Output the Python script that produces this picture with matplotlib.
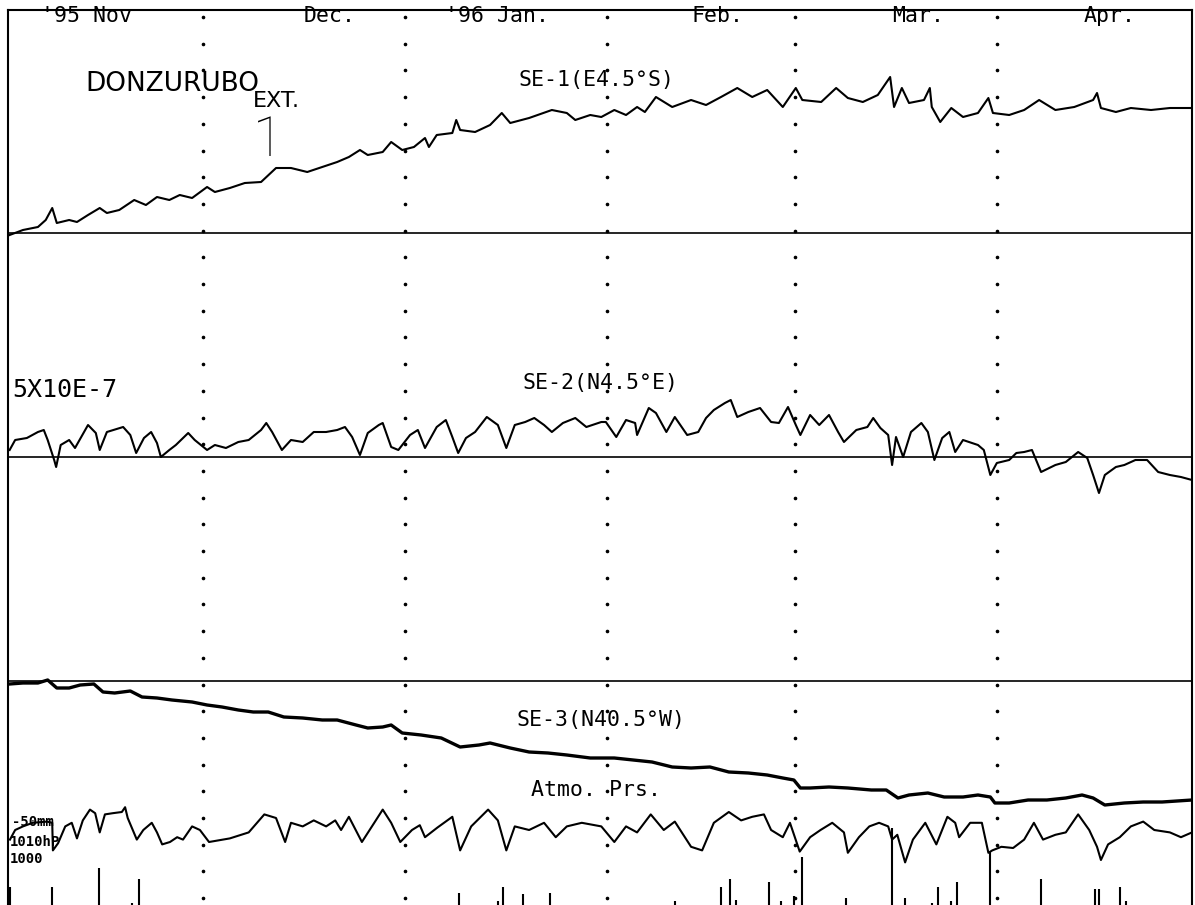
import numpy as np
import matplotlib
matplotlib.use("Agg")
import matplotlib.pyplot as plt

# --- datos leidos del registro (dias desde 1 Nov 1995) ---
# deformacion en unidades de 1e-7 respecto a la linea base de cada canal
se1_day = [0.25, 2.3, 4.6, 5.8, 6.8, 7.5, 9.4, 10.6, 12.3, 14.1, 15.2, 17.1, 19.4, 21.2, 22.9, 24.8,
           26.4, 28.3, 30.6, 31.8, 34.1, 36.4, 38.9, 41.2, 43.5, 46.0, 48.3, 50.6, 52.4, 54.1, 55.3,
           57.6, 58.9, 60.6, 62.4, 64.1, 64.7, 65.9, 68.3, 68.9, 69.5, 71.8, 74.1, 75.9, 77.2, 80.1,
           83.6, 85.9, 87.2, 89.5, 91.2, 93.2, 95.0, 96.7, 97.9, 99.6, 102.1, 105.0, 107.3, 109.6,
           112.1, 114.4, 116.7, 119.1, 121.1, 122.1, 125.0, 127.3, 129.1, 131.4, 133.7, 135.6, 136.2,
           137.4, 138.5, 140.8, 141.7, 142.0, 143.3, 145.0, 146.8, 149.1, 150.7, 151.4, 153.9, 156.2,
           158.5, 161.0, 163.9, 166.8, 167.4, 168.0, 170.3, 172.6, 175.7, 178.6, 182.0]
se1_val = [-0.2, 0.3, 0.6, 1.3, 2.5, 1.0, 1.3, 1.1, 1.8, 2.5, 2.0, 2.3, 3.3, 2.8, 3.6, 3.3,
           3.8, 3.5, 4.6, 4.1, 4.5, 5.0, 5.1, 6.5, 6.5, 6.1, 6.6, 7.1, 7.6, 8.3, 7.8,
           8.1, 9.1, 8.3, 8.6, 9.5, 8.6, 9.8, 10.0, 11.3, 10.3, 10.1, 10.8, 12.0, 11.0, 11.5,
           12.3, 12.0, 11.3, 11.8, 11.6, 12.3, 11.8, 12.6, 12.1, 13.6, 12.6, 13.3, 12.8, 13.6,
           14.5, 13.6, 14.3, 12.6, 14.5, 13.3, 13.1, 14.5, 13.5, 13.1, 13.8, 15.6, 12.6,
           14.5, 13.0, 13.3, 14.5, 12.6, 11.1, 12.5, 11.6, 12.0, 13.5, 12.0, 11.8, 12.3,
           13.3, 12.3, 12.6, 13.3, 14.0, 12.5, 12.1, 12.5, 12.3, 12.5, 12.5]

se2_day = [0.25, 1.1, 2.9, 4.6, 5.5, 6.1, 7.1, 7.4, 8.1, 9.4,
           10.3, 12.3, 13.5, 14.1, 15.2, 17.7, 18.8, 19.7, 20.9, 22.0,
           22.9, 23.5, 24.8, 25.8, 27.7, 28.7, 30.6, 31.8, 33.5, 35.4,
           37.0, 38.9, 39.7, 40.6, 42.1, 43.5, 45.3, 47.0, 48.9, 50.6,
           51.8, 52.9, 54.1, 55.3, 57.0, 57.6, 58.9, 60.0, 61.8, 63.0,
           64.1, 65.9, 67.3, 68.3, 69.2, 70.4, 71.8, 73.6, 75.3, 76.6,
           77.9, 79.5, 80.9, 82.4, 83.6, 85.3, 87.2, 88.9, 91.2, 91.9,
           93.5, 95.0, 96.4, 96.7, 98.5, 99.6, 101.2, 102.5, 104.4, 106.1,
           107.3, 108.5, 110.2, 111.1, 112.1, 113.8, 115.6, 117.3, 118.5, 119.9,
           121.1, 121.8, 123.3, 124.7, 126.2, 127.6, 128.5, 130.4, 132.1, 133.0,
           134.1, 135.3, 135.9, 136.5, 137.6, 138.8, 140.4, 141.4, 142.4, 143.6,
           144.7, 145.6, 146.8, 149.1, 150.0, 151.0, 152.0, 153.9, 155.0, 156.2,
           157.4, 158.8, 161.0, 162.6, 164.5, 165.9, 166.8, 167.7, 168.6, 170.3,
           171.6, 173.3, 175.1, 176.8, 178.6, 180.3, 182.0]
se2_val = [0.7, 1.7, 1.9, 2.5, 2.7, 1.7, -0.3, -1.0, 1.2, 1.7,
           0.9, 3.2, 2.4, 0.7, 2.5, 3.0, 2.2, 0.4, 1.9, 2.5,
           1.4, 0.0, 0.7, 1.2, 2.4, 1.7, 0.7, 1.2, 0.9, 1.5,
           1.7, 2.7, 3.4, 2.5, 0.7, 1.7, 1.5, 2.5, 2.5, 2.7,
           3.0, 2.0, 0.2, 2.4, 3.2, 3.4, 1.0, 0.7, 2.2, 2.7,
           0.9, 3.0, 3.7, 2.0, 0.4, 1.9, 2.5, 4.0, 3.2, 0.9,
           3.2, 3.5, 3.9, 3.2, 2.5, 3.4, 3.9, 3.0, 3.5, 3.5,
           2.0, 3.7, 3.4, 2.2, 4.9, 4.4, 2.5, 4.0, 2.2, 2.5,
           3.9, 4.7, 5.4, 5.7, 4.0, 4.5, 4.9, 3.5, 3.4, 5.0,
           3.2, 2.2, 4.2, 3.2, 4.2, 2.5, 1.5, 2.7, 3.0, 3.9,
           2.9, 2.2, -0.8, 2.0, 0.0, 2.5, 3.4, 2.5, -0.3, 1.9,
           2.5, 0.5, 1.7, 1.2, 0.7, -1.8, -0.6, -0.3, 0.4, 0.5,
           0.7, -1.5, -0.8, -0.5, 0.5, -0.1, -1.8, -3.6, -1.8, -1.0,
           -0.8, -0.3, -0.3, -1.5, -1.8, -2.0, -2.3]

se3_day = [0.25, 2.3, 4.6, 6.1, 7.5, 9.4, 11.1, 13.2, 14.6, 16.4,
           18.8, 20.6, 22.9, 25.2, 28.3, 30.6, 32.9, 35.4, 37.7, 40.0,
           42.4, 45.3, 48.3, 50.6, 53.5, 55.3, 57.6, 58.9, 60.6, 63.5,
           66.6, 69.5, 72.4, 74.1, 77.2, 80.1, 83.0, 85.9, 89.5, 93.2,
           96.1, 99.0, 102.1, 105.0, 107.9, 110.8, 113.8, 116.7, 119.1, 120.8,
           121.8, 123.3, 126.2, 129.1, 132.7, 135.0, 136.8, 138.5, 141.4, 143.9,
           146.8, 149.1, 151.0, 151.7, 153.9, 156.8, 159.7, 162.6, 165.1, 166.8,
           168.6, 171.6, 174.5, 177.4, 182.0]
se3_val = [-0.3, -0.2, -0.2, 0.1, -0.7, -0.7, -0.4, -0.3, -1.1, -1.2,
           -1.0, -1.6, -1.7, -1.9, -2.1, -2.4, -2.6, -2.9, -3.1, -3.1,
           -3.6, -3.7, -3.9, -3.9, -4.4, -4.7, -4.6, -4.4, -5.2, -5.4,
           -5.7, -6.6, -6.4, -6.2, -6.7, -7.1, -7.2, -7.4, -7.7, -7.7,
           -7.9, -8.1, -8.6, -8.7, -8.6, -9.1, -9.2, -9.4, -9.7, -9.9,
           -10.7, -10.7, -10.6, -10.7, -10.9, -10.9, -11.7, -11.4, -11.2, -11.6,
           -11.6, -11.4, -11.6, -12.2, -12.2, -11.9, -11.9, -11.7, -11.4, -11.7,
           -12.4, -12.2, -12.1, -12.1, -11.9]

# presion atmosferica (hPa)
atm_day = [0.3, 1.1, 2.3, 3.8, 6.0, 6.8, 6.9, 7.7, 8.8, 9.8,
           10.6, 11.5, 12.6, 13.4, 14.1, 14.9, 16.1, 17.5, 18.0, 18.4,
           19.8, 20.8, 22.1, 22.9, 23.7, 24.9, 26.0, 26.9, 28.3, 29.5,
           30.9, 34.1, 37.0, 39.4, 41.2, 42.6, 43.5, 45.3, 47.0, 48.9,
           50.3, 51.2, 52.4, 54.4, 56.3, 57.6, 58.9, 60.3, 62.1, 63.3,
           64.1, 66.0, 68.3, 69.5, 71.2, 73.8, 75.3, 76.6, 77.9, 80.1,
           82.4, 84.2, 85.9, 88.2, 91.2, 93.2, 95.0, 96.7, 98.8, 100.8,
           102.5, 105.0, 106.7, 108.5, 110.8, 112.7, 114.4, 116.2, 117.3, 119.1,
           120.2, 121.7, 123.3, 124.9, 126.7, 128.5, 129.1, 130.8, 132.4, 133.9,
           135.3, 135.9, 136.7, 137.9, 139.1, 141.0, 142.7, 144.4, 145.6, 146.2,
           147.9, 149.7, 150.7, 151.3, 152.7, 154.5, 156.2, 157.7, 159.1, 161.0,
           162.6, 164.5, 166.2, 167.4, 168.0, 169.1, 170.9, 172.6, 174.5, 176.2,
           178.6, 180.3, 182.0]
atm_hpa = [1002, 1010, 1013, 1016, 1017, 1016, 993, 999, 1013, 1016,
           1003, 1018, 1027, 1024, 1008, 1023, 1024, 1025, 1029, 1020,
           1002, 1010, 1016, 1008, 998, 1000, 1004, 1002, 1013, 1010,
           1000, 1003, 1008, 1023, 1020, 1000, 1016, 1013, 1018, 1013,
           1018, 1010, 1021, 1000, 1016, 1027, 1016, 1000, 1010, 1014,
           1004, 1012, 1021, 993, 1013, 1027, 1018, 993, 1013, 1010,
           1016, 1004, 1013, 1016, 1013, 1000, 1013, 1008, 1023, 1010,
           1017, 996, 993, 1016, 1025, 1018, 1021, 1023, 1010, 1004,
           1016, 992, 1004, 1010, 1016, 1008, 991, 1004, 1013, 1016,
           1013, 1002, 1006, 983, 1002, 1016, 998, 1021, 1016, 1004,
           1016, 1016, 991, 993, 996, 995, 1002, 1016, 1002, 1006,
           1008, 1023, 1010, 996, 985, 998, 1004, 1013, 1017, 1010,
           1008, 1004, 1008]

# precipitacion diaria (mm)
rain_day = [0.3, 6.8, 14.0, 19.1, 20.1, 69.3, 75.3, 76.1, 79.2, 83.3, 102.5, 109.6, 111.0, 111.9,
            117.0, 118.8, 120.8, 122.1, 128.8, 135.9, 137.9, 142.0, 143.0, 145.0, 145.9, 151.0,
            158.8, 167.1, 167.7, 170.9, 171.9]
rain_mm = [10, 10, 21, 1, 15, 7, 2, 10, 6, 7, 2, 10, 15, 3,
           13, 2, 5, 27, 4, 44, 4, 1, 10, 2, 13, 30,
           15, 9, 9, 10, 2]

month_start = [30, 61, 92, 121, 152]
month_names = ["'95 Nov", "Dec.", "'96 Jan.", "Feb.", "Mar.", "Apr."]
month_label_day = [12.0, 49.5, 75.2, 109.1, 139.9, 169.4]

# --- posiciones de cada canal en la hoja ---
base_se1 = 67.2
base_se2 = 44.8
base_se3 = 22.4
atm_ref = 7.5     # 1010 hPa
atm_k = 0.12      # por hPa
rain_k = 0.176    # por mm

fig = plt.figure(figsize=(11.95, 9.05), dpi=100)
ax = fig.add_axes([8 / 1195, 0, 1184 / 1195, 895 / 905])
ax.set_xlim(0, 182)
ax.set_ylim(0, 89.5)
ax.set_xticks([])
ax.set_yticks([])
for s in ["top", "left", "right"]:
    ax.spines[s].set_linewidth(1.5)
ax.spines["bottom"].set_visible(False)

# lineas punteadas de meses
dots_y = np.arange(88.8, 0, -2.67)
for d in month_start:
    ax.plot([d] * len(dots_y), dots_y, ls="none", marker="o", ms=1.6, color="black")

# lineas base
for b in [base_se1, base_se2, base_se3]:
    ax.axhline(b, color="black", lw=1.2)

ax.plot(se1_day, base_se1 + np.array(se1_val), color="black", lw=1.5)
ax.plot(se2_day, base_se2 + np.array(se2_val), color="black", lw=1.5)
ax.plot(se3_day, base_se3 + np.array(se3_val), color="black", lw=2.4)
ax.plot(atm_day, atm_ref + (np.array(atm_hpa) - 1010) * atm_k, color="black", lw=1.5)
ax.vlines(rain_day, 0, np.array(rain_mm) * rain_k, color="black", lw=1.5)

mono = "DejaVu Sans Mono"
for name, d in zip(month_names, month_label_day):
    ax.text(d, 88.9, name, family=mono, fontsize=15.5, ha="center", va="center")

ax.text(25.2, 82.1, "DONZURUBO", family="DejaVu Sans", fontsize=19, ha="center", va="center")
ax.text(41.2, 79.8, "EXT.", family="DejaVu Sans", fontsize=16, ha="center", va="baseline")
ax.text(40.0, 74.9, "1", family="Roboto", fontsize=40, fontweight=100,
        ha="center", va="baseline")

ax.text(90.5, 82.5, "SE-1(E4.5°S)", family=mono, fontsize=15.5, ha="center", va="center")
ax.text(0.6, 51.5, "5X10E-7", family=mono, fontsize=18, ha="left", va="center")
ax.text(91.0, 52.2, "SE-2(N4.5°E)", family=mono, fontsize=15.5, ha="center", va="center")
ax.text(91.2, 18.5, "SE-3(N40.5°W)", family=mono, fontsize=15.5, ha="center", va="center")
ax.text(90.4, 11.5, "Atmo. Prs.", family=mono, fontsize=15.5, ha="center", va="center")

ax.text(0.6, 8.3, "-50mm", family=mono, fontsize=10, fontweight="bold", ha="left", va="center")
ax.text(0.3, 6.3, "1010hP", family=mono, fontsize=10, fontweight="bold", ha="left", va="center")
ax.text(0.3, 4.6, "1000", family=mono, fontsize=10, fontweight="bold", ha="left", va="center")

fig.savefig("out.png", dpi=100, facecolor="white")
